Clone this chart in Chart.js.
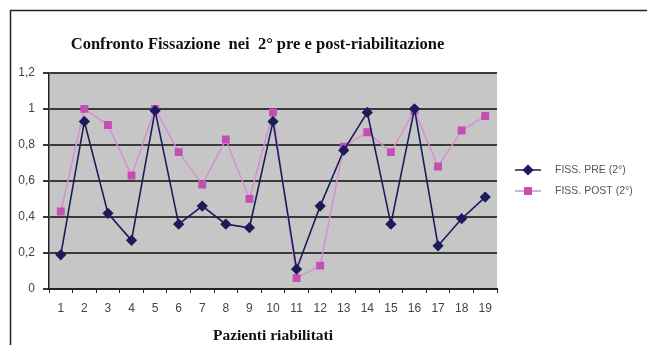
<!DOCTYPE html>
<html>
<head>
<meta charset="utf-8">
<script src="https://cdn.jsdelivr.net/npm/chart.js@4.4.1/dist/chart.umd.min.js"></script>
<style>
  html, body { margin: 0; padding: 0; background: #ffffff; }
  #wrap { position: relative; width: 647px; height: 345px; }
  canvas { display: block; }
</style>
</head>
<body>
<div id="wrap"><canvas id="c" width="647" height="345"></canvas></div>
<script>
// Patients (categories) and fixation scores before / after rehabilitation
const pazienti = ['1','2','3','4','5','6','7','8','9','10','11','12','13','14','15','16','17','18','19'];
const fissPre  = [0.19, 0.93, 0.42, 0.27, 0.99, 0.36, 0.46, 0.36, 0.34, 0.93, 0.11, 0.46, 0.77, 0.98, 0.36, 1.00, 0.24, 0.39, 0.51];
const fissPost = [0.43, 1.00, 0.91, 0.63, 1.00, 0.76, 0.58, 0.83, 0.50, 0.98, 0.06, 0.13, 0.79, 0.87, 0.76, 0.99, 0.68, 0.88, 0.96];
const yTicks   = [0, 0.2, 0.4, 0.6, 0.8, 1, 1.2];

const serieLabels = ['FISS. PRE (2°)', 'FISS. POST (2°)'];
const titolo = 'Confronto Fissazione  nei  2° pre e post-riabilitazione';
const titoloAsseX = 'Pazienti riabilitati';

const navy = '#1c1c5a';
const magenta = '#c44fb4';
const magentaLine = '#d68fcf';

// Frame around the chart and grey plot background
const framePlugin = {
  id: 'frame',
  beforeDraw(chart) {
    const { ctx, chartArea: a } = chart;
    ctx.save();
    ctx.fillStyle = '#ffffff';
    ctx.fillRect(0, 0, chart.width, chart.height);
    ctx.strokeStyle = '#222222';
    ctx.lineWidth = 1.5;
    ctx.beginPath();
    ctx.moveTo(10.5, chart.height);
    ctx.lineTo(10.5, 10.5);
    ctx.lineTo(chart.width, 10.5);
    ctx.stroke();
    ctx.fillStyle = '#c6c6c6';
    ctx.fillRect(a.left, a.top, a.right - a.left, a.bottom - a.top);
    ctx.restore();
  }
};

// Legend on the right, built from the datasets' own styles
const legendPlugin = {
  id: 'sideLegend',
  afterDraw(chart) {
    const { ctx } = chart;
    const x0 = 515, x1 = 541, tx = 555;
    const rows = [170, 191];
    ctx.save();
    chart.data.datasets.forEach((ds, i) => {
      const y = rows[i];
      ctx.strokeStyle = ds.borderColor;
      ctx.lineWidth = 1.5;
      ctx.beginPath();
      ctx.moveTo(x0, y);
      ctx.lineTo(x1, y);
      ctx.stroke();
      ctx.fillStyle = ds.pointBackgroundColor;
      ctx.strokeStyle = ds.pointBorderColor;
      Chart.helpers.drawPoint(ctx, { pointStyle: ds.pointStyle, radius: ds.pointRadius, borderWidth: 1 }, (x0 + x1) / 2, y);
      ctx.fillStyle = '#555555';
      ctx.font = '10.5px "Liberation Sans", Arial, sans-serif';
      ctx.textBaseline = 'middle';
      ctx.textAlign = 'left';
      ctx.fillText(ds.label, tx, y);
    });
    ctx.restore();
  }
};

const fmt = v => String(Math.round(v * 10) / 10).replace('.', ',');

new Chart(document.getElementById('c'), {
  type: 'line',
  data: {
    labels: pazienti,
    datasets: [
      {
        label: serieLabels[0],
        data: fissPre,
        borderColor: navy,
        backgroundColor: navy,
        pointBackgroundColor: navy,
        pointBorderColor: navy,
        pointStyle: 'rectRot',
        pointRadius: 4.5,
        borderWidth: 1.6,
        tension: 0
      },
      {
        label: serieLabels[1],
        data: fissPost,
        borderColor: magentaLine,
        backgroundColor: magenta,
        pointBackgroundColor: magenta,
        pointBorderColor: magenta,
        pointStyle: 'rect',
        pointRadius: 4.5,
        borderWidth: 1.5,
        tension: 0
      }
    ]
  },
  options: {
    responsive: false,
    animation: false,
    devicePixelRatio: 1,
    layout: { padding: { top: 0, right: 150, bottom: 0, left: 18 } },
    plugins: {
      legend: { display: false },
      tooltip: { enabled: false },
      title: {
        display: true,
        text: titolo,
        color: '#111111',
        font: { family: '"Liberation Serif", "Times New Roman", serif', size: 16.5, weight: 'bold' },
        padding: { top: 35, bottom: 18 }
      }
    },
    scales: {
      x: {
        offset: true,
        grid: {
          display: true,
          drawOnChartArea: false,
          drawTicks: true,
          tickLength: 4,
          color: '#222222',
          lineWidth: 1,
          offset: true
        },
        border: { display: true, color: '#222222', width: 2 },
        ticks: {
          color: '#444444',
          padding: 8,
          maxRotation: 0,
          autoSkip: false,
          font: { family: '"Liberation Sans", Arial, sans-serif', size: 12 }
        },
        title: {
          display: true,
          text: titoloAsseX,
          color: '#111111',
          padding: { top: 5, bottom: 0 },
          font: { family: '"Liberation Serif", "Times New Roman", serif', size: 15.5, weight: 'bold' }
        },
        afterFit(scale) { scale.height = 56; }
      },
      y: {
        min: 0,
        max: 1.2,
        afterBuildTicks(scale) { scale.ticks = yTicks.map(v => ({ value: v })); },
        grid: {
          color: '#3a3a3a',
          lineWidth: 2,
          drawTicks: true,
          tickLength: 6
        },
        border: { display: true, color: '#222222', width: 1.5 },
        ticks: {
          color: '#444444',
          padding: 8,
          callback: v => fmt(v),
          font: { family: '"Liberation Sans", Arial, sans-serif', size: 12 }
        },
        afterFit(scale) { scale.width = 31; }
      }
    }
  },
  plugins: [framePlugin, legendPlugin]
});
</script>
</body>
</html>
